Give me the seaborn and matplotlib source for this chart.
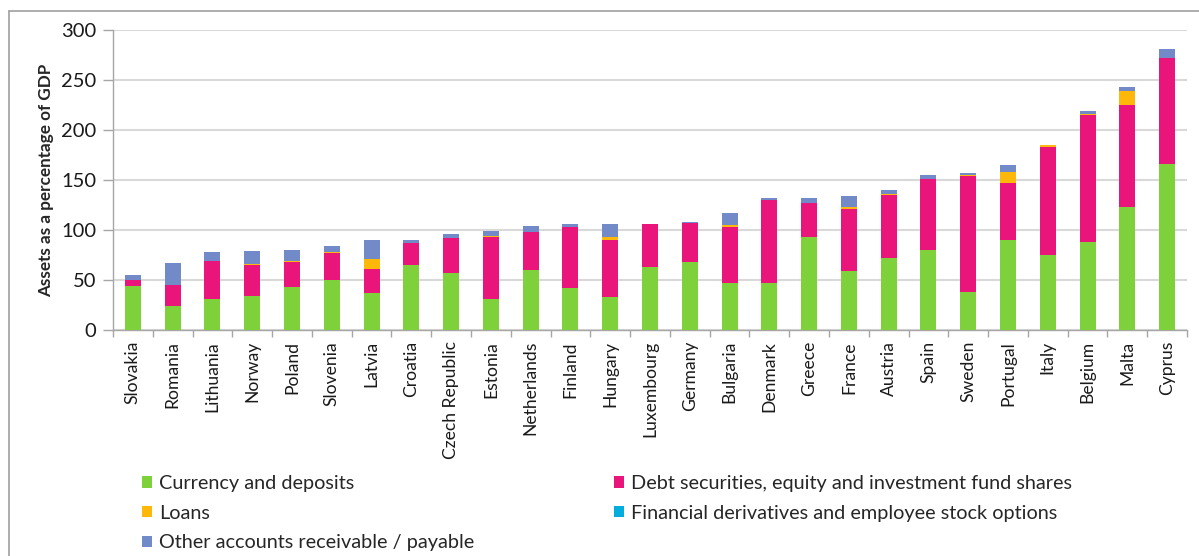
import numpy as np
import pandas as pd
import matplotlib
matplotlib.use("Agg")
import matplotlib.pyplot as plt
from matplotlib.lines import Line2D
from matplotlib.patches import Patch
import seaborn as sns

# Household financial assets by instrument, % of GDP
countries = ["Slovakia", "Romania", "Lithuania", "Norway", "Poland", "Slovenia", "Latvia",
             "Croatia", "Czech Republic", "Estonia", "Netherlands", "Finland", "Hungary",
             "Luxembourg", "Germany", "Bulgaria", "Denmark", "Greece", "France", "Austria",
             "Spain", "Sweden", "Portugal", "Italy", "Belgium", "Malta", "Cyprus"]

currency = [44.0, 24.3, 30.7, 34.0, 43.0, 50.0, 37.0, 65.3, 57.0, 31.3, 60.3, 41.7, 33.3,
            63.3, 68.3, 46.7, 46.7, 92.7, 59.3, 72.3, 80.0, 37.7, 90.0, 74.7, 88.3, 123.0, 166.0]
debt_equity = [6.5, 20.4, 38.0, 30.7, 25.2, 26.7, 24.0, 22.0, 35.3, 61.4, 37.7, 61.0, 56.7,
               42.4, 39.0, 56.6, 83.6, 34.3, 62.0, 63.0, 70.7, 116.3, 57.3, 108.6, 127.0, 102.0, 106.3]
loans = [0.0, 0.0, 0.0, 1.6, 0.5, 1.3, 10.0, 0.0, 0.0, 1.3, 0.0, 0.0, 2.7,
         0.6, 0.0, 1.7, 0.0, 0.0, 1.4, 1.0, 0.0, 0.7, 10.4, 1.7, 1.0, 14.3, 0.0]
derivatives = [0.0, 0.0, 0.0, 0.0, 0.5, 0.0, 0.0, 0.0, 0.0, 0.0, 0.0, 0.0, 0.5,
               0.0, 0.0, 0.0, 0.0, 0.0, 0.0, 0.0, 0.0, 0.0, 0.0, 0.0, 0.0, 0.0, 0.0]
other = [5.0, 22.3, 9.3, 13.0, 10.6, 6.0, 18.7, 3.0, 3.4, 4.7, 5.7, 3.0, 12.5,
         0.0, 0.7, 12.0, 1.7, 5.0, 11.3, 4.0, 4.6, 2.3, 7.0, 0.0, 2.7, 3.4, 8.4]

series = ["Currency and deposits", "Debt securities, equity and investment fund shares",
          "Loans", "Financial derivatives and employee stock options",
          "Other accounts receivable / payable"]
colors = ["#7FD13B", "#EA157A", "#FEB80A", "#00ADDC", "#738AC8"]

df = pd.DataFrame({"country": countries,
                   series[0]: currency, series[1]: debt_equity, series[2]: loans,
                   series[3]: derivatives, series[4]: other})
cum = df[series].cumsum(axis=1)
cum["country"] = df["country"]

sns.set_theme(style="white")
plt.rcParams["font.family"] = ["Lato", "DejaVu Sans"]

fig = plt.figure(figsize=(11.99, 5.56), dpi=100)
ax = fig.add_axes([113 / 1199, 1 - 330 / 556, 1074 / 1199, 300 / 556])

# draw cumulative totals from the top layer down so each segment shows
for name, col in reversed(list(zip(series, colors))):
    sns.barplot(data=cum, x="country", y=name, color=col, width=0.4, order=countries,
                saturation=1, linewidth=0, ax=ax, zorder=3)

ax.set_ylim(0, 300)
ax.set_xlim(-0.5, len(countries) - 0.5)
ax.set_yticks(np.arange(0, 301, 50))
ax.yaxis.grid(True, color="#D9D9D9", linewidth=1.5, zorder=0)
ax.set_axisbelow(True)
for side in ["top", "right"]:
    ax.spines[side].set_visible(False)
ax.spines["left"].set_color("#A6A6A6")
ax.spines["bottom"].set_color("#A6A6A6")
ax.spines["left"].set_linewidth(1)
ax.spines["bottom"].set_linewidth(1)

ax.set_xticks(range(len(countries)))
ax.set_xticklabels(countries, rotation=90, fontsize=12.6, color="#1a1a1a")
ax.set_xticks(np.arange(-0.5, len(countries), 1.0), minor=True)
ax.tick_params(axis="x", which="major", length=0, pad=8)
ax.tick_params(axis="x", which="minor", length=5, color="#A6A6A6", width=1, direction="out")
ax.tick_params(axis="y", length=7, color="#A6A6A6", width=1, direction="out", labelsize=14.5,
               labelcolor="#1a1a1a", pad=5)
ax.tick_params(bottom=True, left=True, which="both")
ax.set_xlabel("")
ax.set_ylabel("Assets as a percentage of GDP", fontsize=12.3, fontweight="bold", labelpad=5)

# legend: two columns laid out row by row
h = [Patch(facecolor=c, edgecolor="none") for c in colors]
kw = dict(frameon=False, fontsize=14.3, handlelength=0.5, handleheight=0.5, handletextpad=0.35,
          labelspacing=0.64, borderaxespad=0, loc="upper left")
fig.legend([h[0], h[2], h[4]], [series[0], series[2], series[4]],
           bbox_to_anchor=(134 / 1199, 1 - 467 / 556), **kw)
fig.legend([h[1], h[3]], [series[1], series[3]],
           bbox_to_anchor=(606 / 1199, 1 - 467 / 556), **kw)

# outer frame (left and top edges visible in the reference)
fig.add_artist(Line2D([8.5 / 1199, 8.5 / 1199], [0, 1 - 11 / 556], color="#A0A0A0", lw=1.2))
fig.add_artist(Line2D([8.5 / 1199, 1], [1 - 11 / 556, 1 - 11 / 556], color="#A0A0A0", lw=1.2))

fig.savefig("out.png", dpi=100)
